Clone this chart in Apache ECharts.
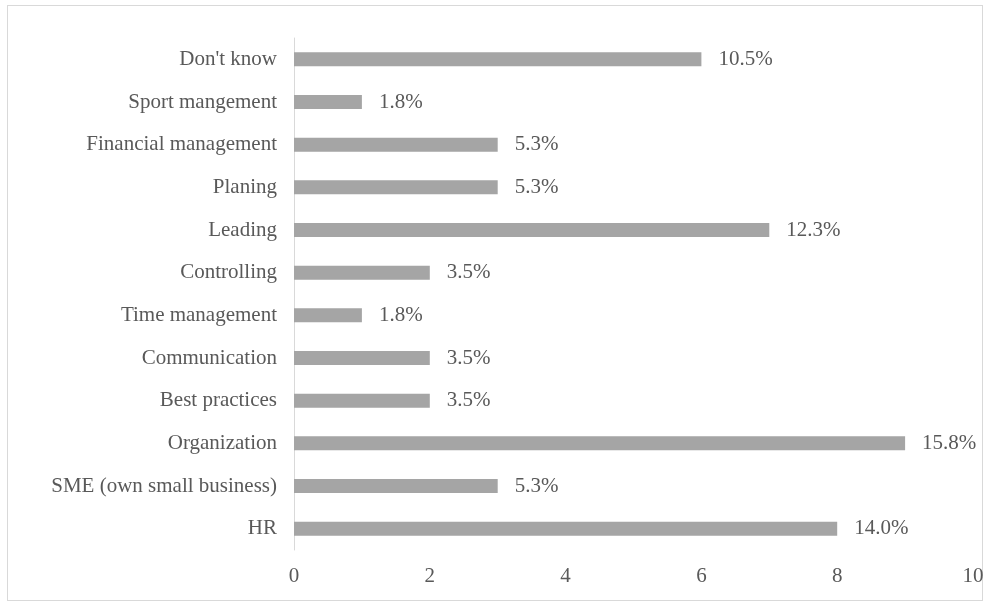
<!DOCTYPE html>
<html><head><meta charset="utf-8">
<script src="https://cdn.jsdelivr.net/npm/echarts@6/dist/echarts.min.js"></script>
<style>
html,body{margin:0;padding:0;background:#fff;}
#frame{position:absolute;left:7px;top:5px;width:976px;height:596px;border:1px solid #d9d9d9;box-sizing:border-box;}
#chart{position:absolute;left:0;top:0;width:990px;height:603px;}
</style></head>
<body>
<div id="frame"></div>
<div id="chart"></div>
<script>
const categories = ["HR","SME (own small business)","Organization","Best practices","Communication","Time management","Controlling","Leading","Planing","Financial management","Sport mangement","Don't know"];
const values = [8,3,9,2,2,1,2,7,3,3,1,6];
const percentLabels = ["14.0%","5.3%","15.8%","3.5%","3.5%","1.8%","3.5%","12.3%","5.3%","5.3%","1.8%","10.5%"];
const xTicks = [0,2,4,6,8,10];

const chart = echarts.init(document.getElementById('chart'));
const font = "'Liberation Serif','Times New Roman',serif";
chart.setOption({
  animation:false,
  grid:{left:294,right:17,top:38,bottom:53},
  xAxis:{type:'value',min:xTicks[0],max:xTicks[xTicks.length-1],interval:xTicks[1]-xTicks[0],
    axisLine:{show:false},axisTick:{show:false},splitLine:{show:false},
    axisLabel:{color:'#595959',fontFamily:font,fontSize:21,margin:16}},
  yAxis:{type:'category',data:categories,
    axisLine:{show:true,lineStyle:{color:'#d9d9d9',width:1}},axisTick:{show:false},
    axisLabel:{color:'#595959',fontFamily:font,fontSize:21,margin:17}},
  series:[{type:'bar',data:values,barWidth:14,
    itemStyle:{color:'#a5a5a5'},
    label:{show:true,position:'right',distance:17,color:'#595959',fontFamily:font,fontSize:21,
      formatter:p=>percentLabels[p.dataIndex]}}]
});
</script>
</body></html>
